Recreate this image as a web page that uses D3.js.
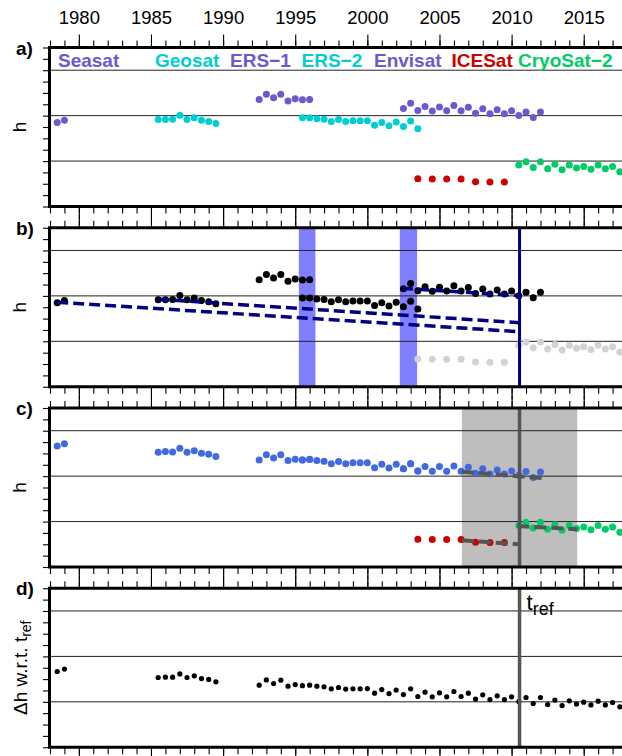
<!DOCTYPE html>
<html>
<head>
<meta charset="utf-8">
<script src="https://cdnjs.cloudflare.com/ajax/libs/d3/7.8.5/d3.min.js"></script>
<style>
    body { margin: 0; background: #fff; }
    svg { display: block; font-family: "Liberation Sans", Arial, Helvetica, sans-serif; }
</style>
</head>
<body>
<div id="chart"></div>
<script>
// mission sampling times (decimal years)
var seasatYears = [1978.5, 1979.0];
var geosatYears = [1985.5, 1986.0, 1986.5, 1987.0, 1987.5, 1988.0, 1988.5, 1989.0, 1989.5];
var ers1Years = [1992.5, 1993.0, 1993.5, 1994.0, 1994.5, 1995.0, 1995.5, 1996.0];
var ers2Years = [1995.5, 1996.0, 1996.5, 1997.0, 1997.5, 1998.0, 1998.5, 1999.0, 1999.5,
    2000.0, 2000.5, 2001.0, 2001.5, 2002.0, 2002.5, 2003.0, 2003.5];
var envisatYears = [2002.5, 2003.0, 2003.5, 2004.0, 2004.5, 2005.0, 2005.5, 2006.0, 2006.5, 2007.0,
    2007.5, 2008.0, 2008.5, 2009.0, 2009.5, 2010.0, 2010.5, 2011.0, 2011.5, 2012.0];
var icesatYears = [2003.5, 2004.5, 2005.5, 2006.5, 2007.5, 2008.5, 2009.5];
var cryosatYears = [2010.5, 2011.0, 2011.5, 2012.0, 2012.5, 2013.0, 2013.5, 2014.0,
    2014.5, 2015.0, 2015.5, 2016.0, 2016.5, 2017.0, 2017.5];

// panel a / b: raw heights (arbitrary units, grid lines at 4, 8, 12)
var seasatA = [7.40, 7.60];
var geosatA = [7.67, 7.67, 7.69, 8.04, 7.67, 7.81, 7.60, 7.49, 7.31];
var ers1A = [9.42, 9.89, 9.57, 9.89, 9.30, 9.48, 9.39, 9.42];
var ers2A = [7.81, 7.81, 7.72, 7.69, 7.49, 7.67, 7.49, 7.54, 7.54, 7.54, 7.16, 7.40, 7.10, 7.43, 7.05, 7.52, 6.84];
var envisatA = [8.63, 9.10, 8.46, 8.81, 8.40, 8.77, 8.42, 8.90, 8.42, 8.75,
    8.22, 8.60, 8.16, 8.51, 8.16, 8.42, 8.02, 8.31, 7.84, 8.33];
var icesatA = [2.44, 2.42, 2.42, 2.42, 2.18, 2.15, 2.15];
var cryosatA = [3.65, 3.94, 3.44, 3.94, 3.32, 3.71, 3.23, 3.65, 3.38, 3.53, 3.27, 3.65, 3.32, 3.53, 3.06];

// panel c: radar missions after cross-calibration
var seasatC = [10.66, 10.86];
var geosatC = [10.10, 10.16, 10.13, 10.46, 10.10, 10.24, 10.01, 9.93, 9.72];
var ers1C = [9.43, 9.89, 9.60, 9.89, 9.37, 9.49, 9.43, 9.46];
var ers2C = [9.43, 9.49, 9.37, 9.31, 9.10, 9.28, 9.10, 9.19, 9.19, 9.19, 8.75, 9.04, 8.72, 9.04, 8.66, 9.10, 8.46];
var envisatC = [8.66, 9.10, 8.46, 8.84, 8.43, 8.84, 8.43, 8.90, 8.43, 8.78,
    8.25, 8.66, 8.19, 8.55, 8.19, 8.46, 8.07, 8.40, 7.87, 8.37];

// panel d: merged record relative to t_ref
var mergedYears = [1978.5, 1979.0,
    1985.5, 1986.0, 1986.5, 1987.0, 1987.5, 1988.0, 1988.5, 1989.0, 1989.5,
    1992.5, 1993.0, 1993.5, 1994.0, 1994.5, 1995.0, 1995.5, 1996.0, 1996.5, 1997.0,
    1997.5, 1998.0, 1998.5, 1999.0, 1999.5, 2000.0, 2000.5, 2001.0, 2001.5, 2002.0,
    2002.5, 2003.0, 2003.5, 2004.0, 2004.5, 2005.0, 2005.5, 2006.0, 2006.5, 2007.0,
    2007.5, 2008.0, 2008.5, 2009.0, 2009.5, 2010.0,
    2010.5, 2011.0, 2011.5, 2012.0, 2012.5, 2013.0, 2013.5, 2014.0,
    2014.5, 2015.0, 2015.5, 2016.0, 2016.5, 2017.0, 2017.5];
var mergedD = [6.67, 6.88,
    6.14, 6.17, 6.17, 6.46, 6.14, 6.29, 6.05, 5.97, 5.76,
    5.47, 5.93, 5.61, 5.91, 5.38, 5.52, 5.42, 5.47, 5.38, 5.32,
    5.14, 5.26, 5.12, 5.14, 5.14, 5.17, 4.76, 5.08, 4.73, 5.03,
    4.64, 5.14, 4.47, 4.85, 4.44, 4.79, 4.44, 4.91, 4.47, 4.76,
    4.24, 4.62, 4.20, 4.53, 4.20, 4.44,
    4.03, 4.38, 3.85, 4.38, 3.76, 4.15, 3.67, 4.09,
    3.80, 3.97, 3.73, 4.06, 3.73, 3.94, 3.56];

var tref = 2010.55;
var overlapBands = [[1995.25, 1996.4], [2002.25, 2003.45]];
var refWindow = [2006.55, 2014.55];
// panel b trend lines and panel c local fits: [year0, h0, year1, h1]
var trendLines = [[1978.5, 7.44, tref, 4.85], [1985.5, 7.70, tref, 5.64], [2002.4, 8.67, tref, 8.02]];
var localFits = [[2006.55, 8.39, 2012.15, 7.83], [2006.55, 2.35, tref, 2.00], [2010.4, 3.61, 2014.55, 3.32]];

var missionNames = ["Seasat", "Geosat", "ERS\u22121", "ERS\u22122", "Envisat", "ICESat", "CryoSat\u22122"];
var yearTicks = [1980, 1985, 1990, 1995, 2000, 2005, 2010, 2015];

var purple = "#6a5acd", cyan = "#00ced1", red = "#cd0000", green = "#00cd66";

var width = 622, height = 756;
var panelTop = [47.5, 227.75, 408, 588.25],
    panelHeight = 159,
    left = 50, right = 627;

var svg = d3.select("#chart").append("svg")
    .attr("width", width)
    .attr("height", height);

var x = d3.scaleLinear().domain([1978, 2018]).range([left, right]);

function yFor(i) {
    return d3.scaleLinear().domain([0, 14]).range([panelTop[i] + panelHeight, panelTop[i]]);
}

function pts(years, vals) {
    return years.map(function (yr, i) { return { year: yr, v: vals[i] }; });
}

var series = {
    a: [
        { data: pts(seasatYears, seasatA), color: purple },
        { data: pts(geosatYears, geosatA), color: cyan },
        { data: pts(ers1Years, ers1A), color: purple },
        { data: pts(ers2Years, ers2A), color: cyan },
        { data: pts(envisatYears, envisatA), color: purple },
        { data: pts(icesatYears, icesatA), color: red },
        { data: pts(cryosatYears, cryosatA), color: green }
    ],
    b: [
        { data: pts(seasatYears, seasatA), color: "#000" },
        { data: pts(geosatYears, geosatA), color: "#000" },
        { data: pts(ers1Years, ers1A), color: "#000" },
        { data: pts(ers2Years, ers2A), color: "#000" },
        { data: pts(envisatYears, envisatA), color: "#000" },
        { data: pts(icesatYears, icesatA), color: "#d3d3d3" },
        { data: pts(cryosatYears, cryosatA), color: "#d3d3d3" }
    ],
    c: [
        { data: pts(seasatYears, seasatC), color: "#4169e1" },
        { data: pts(geosatYears, geosatC), color: "#4169e1" },
        { data: pts(ers1Years, ers1C), color: "#4169e1" },
        { data: pts(ers2Years, ers2C), color: "#4169e1" },
        { data: pts(envisatYears, envisatC), color: "#4169e1" },
        { data: pts(icesatYears, icesatA), color: red },
        { data: pts(cryosatYears, cryosatA), color: green }
    ],
    d: [
        { data: pts(mergedYears, mergedD), color: "#000", r: 2.6 }
    ]
};

var labels = ["a)", "b)", "c)", "d)"];
var keys = ["a", "b", "c", "d"];

keys.forEach(function (key, i) {
    var y = yFor(i);
    var top = panelTop[i], bottom = top + panelHeight;
    var g = svg.append("g").attr("class", "panel-" + key);

    // background shading
    if (key == "b") {
        g.selectAll(".band")
            .data(overlapBands)
            .enter().append("rect")
            .attr("x", function (d) { return x(d[0]); })
            .attr("width", function (d) { return x(d[1]) - x(d[0]); })
            .attr("y", top)
            .attr("height", panelHeight)
            .attr("fill", "#8080ff");
    }
    if (key == "c") {
        g.append("rect")
            .attr("x", x(refWindow[0]))
            .attr("width", x(refWindow[1]) - x(refWindow[0]))
            .attr("y", top)
            .attr("height", panelHeight)
            .attr("fill", "#bebebe");
    }

    // grid lines
    g.selectAll(".grid")
        .data([4, 8, 12])
        .enter().append("line")
        .attr("x1", left).attr("x2", right)
        .attr("y1", function (d) { return y(d); })
        .attr("y2", function (d) { return y(d); })
        .attr("stroke", "#222")
        .attr("stroke-width", 1);

    // points
    series[key].forEach(function (s) {
        g.append("g").selectAll("circle")
            .data(s.data)
            .enter().append("circle")
            .attr("cx", function (d) { return x(d.year); })
            .attr("cy", function (d) { return y(d.v); })
            .attr("r", s.r || 3.5)
            .attr("fill", s.color);
    });

    if (key == "b") {
        g.selectAll(".trend")
            .data(trendLines)
            .enter().append("line")
            .attr("x1", function (d) { return x(d[0]); })
            .attr("y1", function (d) { return y(d[1]); })
            .attr("x2", function (d) { return x(d[2]); })
            .attr("y2", function (d) { return y(d[3]); })
            .attr("stroke", "#000080")
            .attr("stroke-width", 3.5)
            .attr("stroke-dasharray", "11,5");
        g.append("line")
            .attr("x1", x(tref)).attr("x2", x(tref))
            .attr("y1", top).attr("y2", bottom)
            .attr("stroke", "#000080")
            .attr("stroke-width", 3);
    }
    if (key == "c") {
        g.selectAll(".fit")
            .data(localFits)
            .enter().append("line")
            .attr("x1", function (d) { return x(d[0]); })
            .attr("y1", function (d) { return y(d[1]); })
            .attr("x2", function (d) { return x(d[2]); })
            .attr("y2", function (d) { return y(d[3]); })
            .attr("stroke", "#555")
            .attr("stroke-width", 4)
            .attr("stroke-dasharray", "12,5");
    }
    if (key == "c" || key == "d") {
        g.append("line")
            .attr("x1", x(tref)).attr("x2", x(tref))
            .attr("y1", top).attr("y2", bottom)
            .attr("stroke", "#555")
            .attr("stroke-width", 3.5);
    }

    // ticks: minor every year, major every 5 years, outward on top and bottom
    var minorTop = d3.axisTop(x).tickValues(d3.range(1978, 2019)).tickSize(7).tickFormat("");
    var majorTop = d3.axisTop(x).tickValues(yearTicks).tickSize(13).tickPadding(11)
        .tickFormat(i == 0 ? d3.format("d") : "");
    var minorBottom = d3.axisBottom(x).tickValues(d3.range(1978, 2019)).tickSize(7).tickFormat("");
    var majorBottom = d3.axisBottom(x).tickValues(yearTicks).tickSize(13).tickFormat("");
    var yAxis = d3.axisLeft(y).tickValues(d3.range(0, 15)).tickSize(7).tickFormat("");

    [[minorTop, top], [majorTop, top], [minorBottom, bottom], [majorBottom, bottom], [yAxis, null]]
        .forEach(function (a) {
            var ax = g.append("g")
                .attr("transform", a[1] === null ? "translate(" + left + ",0)" : "translate(0," + a[1] + ")")
                .call(a[0]);
            ax.select(".domain").remove();
            ax.selectAll("line").attr("stroke", "#000").attr("stroke-width", 1.1);
            ax.selectAll("text")
                .attr("fill", "#000")
                .style("font-size", "18.5px")
                .style("font-family", "Liberation Sans, Arial, sans-serif");
        });

    // frame: thick left, top and bottom edges
    g.append("line").attr("x1", left - 2).attr("x2", right).attr("y1", top).attr("y2", top)
        .attr("stroke", "#000").attr("stroke-width", 3);
    g.append("line").attr("x1", left - 2).attr("x2", right).attr("y1", bottom).attr("y2", bottom)
        .attr("stroke", "#000").attr("stroke-width", 3);
    g.append("line").attr("x1", left - 0.5).attr("x2", left - 0.5).attr("y1", top).attr("y2", bottom)
        .attr("stroke", "#000").attr("stroke-width", 3);

    // panel letter
    g.append("text")
        .attr("x", 16)
        .attr("y", top + 7)
        .style("font-size", "19px")
        .style("font-weight", "bold")
        .text(labels[i]);

    // y label
    var yl = g.append("text")
        .attr("transform", "translate(" + (i == 3 ? 27 : 26) + "," + (top + panelHeight / 2) + ") rotate(-90)")
        .attr("text-anchor", "middle")
        .style("font-size", "19px");
    if (i == 3) {
        yl.append("tspan").text("\u0394h w.r.t. t");
        yl.append("tspan").attr("dy", 4).style("font-size", "14px").text("ref");
    } else {
        yl.text("h");
    }
});

// legend in panel a
var legendX = [58, 155, 230, 301.5, 374, 451.5, 518];
var legendColor = [purple, cyan, purple, cyan, purple, red, green];
svg.append("g").selectAll("text")
    .data(missionNames)
    .enter().append("text")
    .attr("x", function (d, i) { return legendX[i]; })
    .attr("y", 66.5)
    .attr("fill", function (d, i) { return legendColor[i]; })
    .style("font-size", "19px")
    .style("font-weight", "bold")
    .text(function (d) { return d; });

// t_ref label in panel d
var tl = svg.append("text")
    .attr("x", x(tref) + 7)
    .attr("y", 610)
    .style("font-size", "22px");
tl.append("tspan").text("t");
tl.append("tspan").attr("dy", 5).style("font-size", "18px").text("ref");
</script>
</body>
</html>
